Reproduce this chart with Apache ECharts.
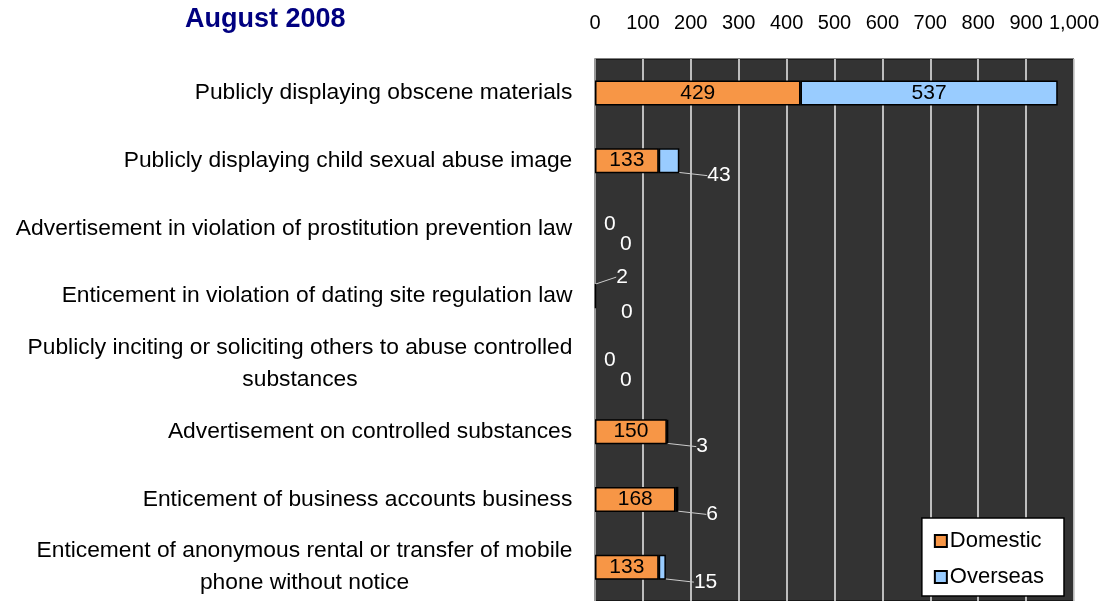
<!DOCTYPE html>
<html><head><meta charset="utf-8">
<script src="https://cdn.jsdelivr.net/npm/echarts@6/dist/echarts.min.js"></script>
<style>html,body{margin:0;padding:0;background:#fff}#c{width:1108px;height:601px}</style>
</head><body><div id="c"></div>
<script>
var title = 'August 2008';
var categories = [
  'Publicly displaying obscene materials',
  'Publicly displaying child sexual abuse image',
  'Advertisement in violation of prostitution prevention law',
  'Enticement in violation of dating site regulation law',
  'Publicly inciting or soliciting others to abuse controlled\nsubstances',
  'Advertisement on controlled substances',
  'Enticement of business accounts business',
  'Enticement of anonymous rental or transfer of mobile\nphone without notice'
];
var seriesNames = ['Domestic', 'Overseas'];
var domestic = [429, 133, 0, 2, 0, 150, 168, 133];
var overseas = [537, 43, 0, 0, 0, 3, 6, 15];
var axisMin = 0, axisMax = 1000, axisStep = 100;

var FONT = 'Liberation Sans, Arial, sans-serif';
var catFontSize = 22.8;

// measure label lines for centred multi-line category labels
var ctx = document.createElement('canvas').getContext('2d');
ctx.font = catFontSize + 'px ' + FONT;
var rich = {};
categories.forEach(function (c, i) {
  var lines = c.split('\n');
  var w = Math.max.apply(null, lines.map(function (l) { return ctx.measureText(l).width; }));
  rich['l' + i] = { width: Math.ceil(w) + 1, align: 'center', fontSize: catFontSize, fontFamily: FONT, color: '#000', lineHeight: 32 };
});

function item(v, big) {
  return {
    value: v,
    itemStyle: v === 0 ? { borderWidth: 0 } : {},
    label: big ? { position: 'inside', color: '#000' } : { position: 'right', color: '#fff' },
    labelLine: { show: !big && v > 0 }
  };
}

var chart = echarts.init(document.getElementById('c'), null, { renderer: 'canvas' });
chart.setOption({
  animation: false,
  backgroundColor: '#fff',
  textStyle: { fontFamily: FONT },
  title: {
    text: title, left: 185, top: 6, padding: 0,
    textStyle: { fontSize: 27, fontWeight: 'bold', color: '#000080', fontFamily: FONT }
  },
  grid: {
    left: 595, top: 59, width: 479, height: 544,
    show: true, backgroundColor: '#333333', borderColor: '#000', borderWidth: 1
  },
  legend: {
    data: seriesNames, orient: 'vertical', right: 44, bottom: 5,
    backgroundColor: '#fff', borderColor: '#000', borderWidth: 1.5,
    padding: [12, 20, 8, 12], itemWidth: 12, itemHeight: 12, itemGap: 14,
    icon: 'rect',
    textStyle: { fontSize: 22, color: '#000', fontFamily: FONT, padding: [0, 0, 0, -2] }
  },
  xAxis: {
    type: 'value', position: 'top', min: axisMin, max: axisMax, interval: axisStep,
    axisLine: { show: false }, axisTick: { show: false },
    axisLabel: {
      margin: 26, fontSize: 20, color: '#000', fontFamily: FONT,
      formatter: function (v) { return v.toLocaleString('en-US'); }
    },
    splitLine: { show: true, lineStyle: { color: '#eeeeee', width: 1.5 } }
  },
  yAxis: {
    type: 'category', inverse: true, data: categories,
    axisLine: { show: true, lineStyle: { color: '#999', width: 2 } },
    axisTick: { show: false },
    axisLabel: {
      margin: 22, align: 'right',
      formatter: function (v, i) {
        return v.split('\n').map(function (l) { return '{l' + i + '|' + l + '}'; }).join('\n');
      },
      rich: rich
    }
  },
  series: [
    {
      name: seriesNames[0], type: 'bar', stack: 'a', barWidth: 25,
      itemStyle: { color: '#F79646', borderColor: '#000', borderWidth: 1.5 },
      label: { show: true, fontSize: 21, fontFamily: FONT },
      labelLine: { lineStyle: { color: '#cccccc', width: 1 } },
      labelLayout: function (p) {
        var v = domestic[p.dataIndex];
        if (v >= 50) return {};
        if (v === 0) return { dx: 4, dy: -4 };
        return { dx: 15, dy: -19 };
      },
      data: domestic.map(function (v) { return item(v, v >= 50); })
    },
    {
      name: seriesNames[1], type: 'bar', stack: 'a', barWidth: 25,
      itemStyle: { color: '#99CCFF', borderColor: '#000', borderWidth: 1.5 },
      label: { show: true, fontSize: 21, fontFamily: FONT },
      labelLine: { lineStyle: { color: '#cccccc', width: 1 } },
      labelLayout: function (p) {
        var v = overseas[p.dataIndex];
        if (v >= 100) return {};
        if (v === 0) return { dx: 20, dy: 16 };
        return { dx: 23, dy: 15 };
      },
      data: overseas.map(function (v) { return item(v, v >= 100); })
    }
  ]
});
</script></body></html>
